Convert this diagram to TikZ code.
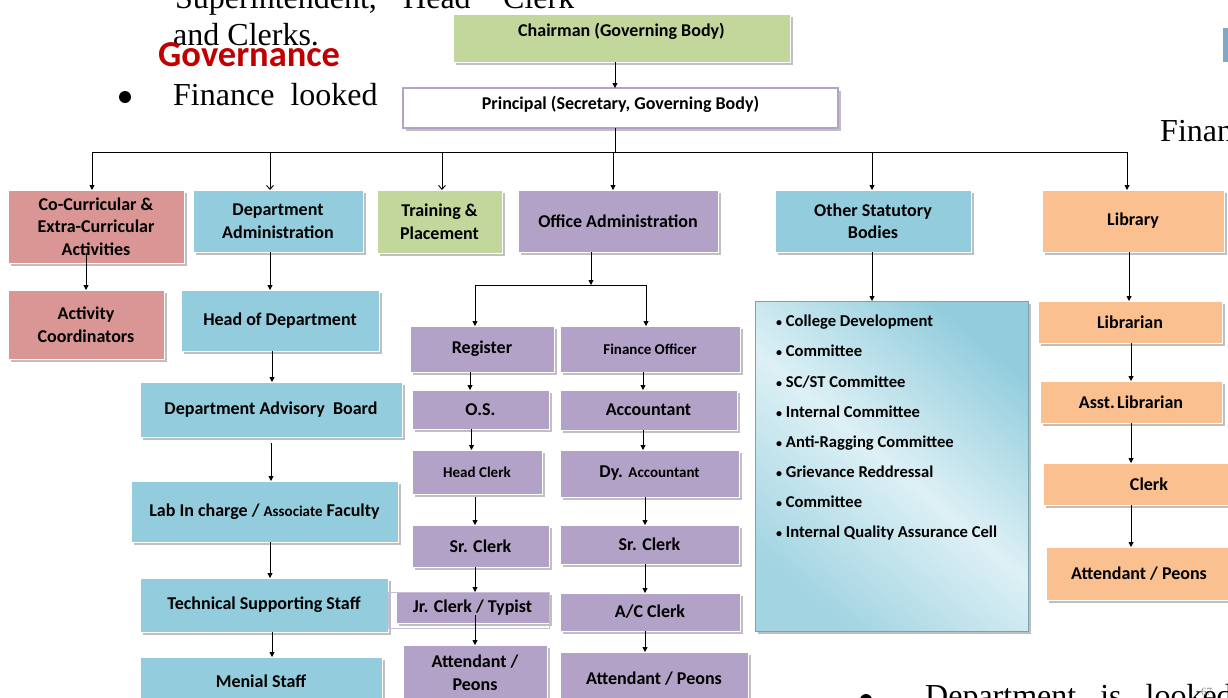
\documentclass[tikz,border=0pt]{standalone}
\usepackage{fontspec}
\setmainfont{Carlito}
\newfontfamily\seriffont{Liberation Serif}
\usetikzlibrary{arrows.meta,shadows}
\definecolor{cgreen}{HTML}{C3D69B}
\definecolor{cpink}{HTML}{D99694}
\definecolor{cblue}{HTML}{93CDDD}
\definecolor{cpurple}{HTML}{B3A2C7}
\definecolor{corange}{HTML}{FAC090}
\definecolor{cred}{HTML}{C00000}
\definecolor{clight}{HTML}{DDF0F5}
\definecolor{cmark}{HTML}{7FA7C9}
\newcommand{\sbul}{{\fontsize{12}{12}\selectfont\textbullet}\ }
\tikzset{
  box/.style={draw=white, line width=0.6pt, inner sep=0pt, outer sep=0pt, align=center,
    font=\bfseries\fontsize{18}{22.5}\selectfont,
    drop shadow={shadow xshift=2.5pt, shadow yshift=-2.5pt, fill=black!50, opacity=0.5}},
  arr/.style={line width=0.9pt, -{Triangle[length=5pt,width=5pt]}},
  oarr/.style={line width=0.9pt, -{Straight Barb[length=4pt,width=7pt]}},
  ln/.style={line width=0.9pt},
  bg/.style={font=\seriffont\fontsize{32}{37}\selectfont, inner sep=0pt, anchor=base west},
  small/.style={font=\bfseries\fontsize{15}{20}\selectfont}
}
\begin{document}
\begin{tikzpicture}[x=1pt,y=-1pt]
\useasboundingbox (0,0) rectangle (1228,697);
\clip (0,0) rectangle (1228,697);
% ---------- background page text ----------
\node[bg] (t1) at (175,8) {Superintendent,};
\node[bg] (t2) at (403,8) {Head};
\node[bg] (t3) at (503,8) {Clerk};
\node[bg] (t4) at (173,45) {and Clerks.};
\node[anchor=base west, inner sep=0pt, text=cred, font=\bfseries\fontsize{36.5}{40}\selectfont] (gov) at (158,66) {Governance};
\fill (125,97) circle (6);
\node[bg] (t5) at (173,105) {Finance\ \ looked};
\node[bg] (t6) at (1160,141) {Finan};
\fill (866,700) circle (6);
\node[bg] (t7) at (925,706) {Department\ \ \ is\ \ \ looked};
\node[anchor=base west, inner sep=0pt, text=gray, font=\seriffont\fontsize{11}{11}\selectfont] (pg) at (1201,695) {67};
\fill[cmark] (1223,28) rectangle (1228,62);
% ---------- top ----------
\node[box, fill=cgreen, minimum width=337, minimum height=48, text depth=17pt] (chair) at (621.5,38) {Chairman (Governing Body)};
\node[box, fill=white, draw=cpurple, line width=1.8pt, minimum width=435, minimum height=40, text depth=10pt] (prin) at (620.5,108) {Principal (Secretary, Governing Body)};
% ---------- level 1 ----------
\node[box, fill=cpink, minimum width=176, minimum height=73] (cc) at (96,226.5) {Co-Curricular \&\\Extra-Curricular\\Activities};
\node[box, fill=cblue, minimum width=170, minimum height=62] (dept) at (278,221) {Department\\Administration};
\node[box, fill=cgreen, minimum width=125, minimum height=63] (train) at (439.5,221.5) {Training \&\\Placement};
\node[box, fill=cpurple, minimum width=200, minimum height=62] (office) at (618,221) {Office Administration};
\node[box, fill=cblue, minimum width=196, minimum height=62] (stat) at (873,221) {Other Statutory\\Bodies};
\node[box, fill=corange, minimum width=182, minimum height=62] (lib) at (1133,221) {Library};
% ---------- co-curricular ----------
\node[box, fill=cpink, minimum width=156, minimum height=69] (act) at (86,324.5) {Activity\\Coordinators};
% ---------- department column ----------
\node[box, fill=cblue, minimum width=198, minimum height=61] (hod) at (280,320.5) {Head of Department};
\node[box, fill=cblue, minimum width=262, minimum height=55] (dab) at (271,409.5) {Department Advisory\ \ Board};
\node[box, fill=cblue, minimum width=267, minimum height=61] (lab) at (264.5,511.5) {Lab In charge / {\fontsize{15}{20}\selectfont Associate} Faculty};
\node[box, fill=cblue, minimum width=248, minimum height=54] (tss) at (264,605) {Technical Supporting Staff};
\node[box, fill=cblue, minimum width=242, minimum height=48] (men) at (261,681) {Menial Staff};
% ---------- office columns ----------
\node[box, fill=cpurple, minimum width=144, minimum height=46] (reg) at (482,349) {Register};
\node[box, fill=cpurple, minimum width=180, minimum height=46, small] (fin) at (650,349) {Finance Officer};
\node[box, fill=cpurple, minimum width=137, minimum height=39] (os) at (480.5,409.5) {O.S.};
\node[box, fill=cpurple, minimum width=177, minimum height=40] (acc) at (648.5,410) {Accountant};
\node[box, fill=cpurple, minimum width=130, minimum height=44, small] (hc) at (477,472) {Head Clerk};
\node[box, fill=cpurple, minimum width=179, minimum height=47] (dy) at (649.5,473.5) {Dy. {\fontsize{15}{20}\selectfont Accountant}};
\node[box, fill=cpurple, minimum width=137, minimum height=42] (srl) at (480.5,546) {Sr. Clerk};
\node[box, fill=cpurple, minimum width=179, minimum height=39] (srr) at (649.5,544.5) {Sr. Clerk};
\node[box, fill=cpurple, minimum width=153, minimum height=31] (jr) at (472.5,607.5) {Jr. Clerk / Typist};
\draw[cpurple!70, line width=1pt] ([xshift=-8pt]jr.north west) rectangle ([yshift=-5pt]jr.south east);
\node[box, fill=cpurple, minimum width=180, minimum height=38] (acl) at (650,612) {A/C Clerk};
\node[box, fill=cpurple, minimum width=144, minimum height=55] (attl) at (475,672.5) {Attendant /\\Peons};
\node[box, fill=cpurple, minimum width=188, minimum height=53] (attr) at (654,678.5) {Attendant / Peons};
% ---------- statutory ----------
\node[box, draw=cblue!80!black, line width=0.8pt, minimum width=273, minimum height=330,
  top color=cblue, bottom color=cblue!85, middle color=clight, shading angle=-40] (slist) at (891.5,466) {};
\node[anchor=north west, align=left, inner sep=0pt, font=\bfseries\fontsize{16.6}{30.1}\selectfont] (sitems) at (776,315)
 {\sbul College Development\\
  \sbul Committee\\
  \sbul SC/ST Committee\\
  \sbul Internal Committee\\
  \sbul Anti-Ragging Committee\\
  \sbul Grievance Reddressal\\
  \sbul Committee\\
  \sbul Internal Quality Assurance Cell};
% ---------- library ----------
\node[box, fill=corange, minimum width=184, minimum height=42] (libr) at (1130,322) {Librarian};
\node[box, fill=corange, minimum width=182, minimum height=42] (asst) at (1131,402) {Asst.\hspace{0.12em}Librarian};
\node[box, fill=corange, minimum width=212, minimum height=42] (clk) at (1149,484) {Clerk};
\node[box, fill=corange, minimum width=186, minimum height=53] (attb) at (1139,573.5) {Attendant / Peons};
% ---------- connectors ----------
\coordinate (busL) at (92,152);
\coordinate (busR) at (1127,152);
\coordinate (sp) at (591,285);
\draw[arr] ([xshift=-6.5pt]chair.south) -- ([xshift=-6.5pt]chair.south |- prin.north);
\draw[ln] ([xshift=-5.5pt]prin.south) -- ([xshift=-5.5pt]prin.south |- busL);
\draw[ln] (busL) -- (busR);
\draw[arr] (busL) -- (busL |- cc.north);
\draw[oarr] ([xshift=-8pt]dept.north |- busL) -- ([xshift=-8pt]dept.north);
\draw[oarr] ([xshift=2.5pt]train.north |- busL) -- ([xshift=2.5pt]train.north);
\draw[arr] ([xshift=-5pt]office.north |- busL) -- ([xshift=-5pt]office.north);
\draw[arr] ([xshift=-1pt]stat.north |- busL) -- ([xshift=-1pt]stat.north);
\draw[arr] (busR) -- (busR |- lib.north);
% co-curricular
\draw[arr] ([xshift=-10pt,yshift=10pt]cc.south) -- ([xshift=-10pt]cc.south |- act.north);
% department
\draw[arr] ([xshift=-8pt]dept.south) -- ([xshift=-8pt]dept.south |- hod.north);
\draw[arr] ([xshift=-8pt]hod.south) -- ([xshift=-8pt]hod.south |- dab.north);
\draw[arr] ([xshift=0pt,yshift=-6pt]dab.south) -- (dab.south |- lab.north);
\draw[arr] ([xshift=5.5pt]lab.south) -- ([xshift=5.5pt]lab.south |- tss.north);
\draw[arr] ([xshift=8pt]tss.south) -- ([xshift=8pt]tss.south |- men.north);
% office
\draw[arr] ([xshift=-27pt]office.south) -- ([xshift=-27pt]office.south |- sp);
\draw[ln] ([xshift=-7pt]reg.north |- sp) -- ([xshift=-4pt]fin.north |- sp);
\draw[arr] ([xshift=-7pt]reg.north |- sp) -- ([xshift=-7pt]reg.north);
\draw[arr] ([xshift=-4pt]fin.north |- sp) -- ([xshift=-4pt]fin.north);
\draw[arr] ([xshift=-12pt]reg.south) -- ([xshift=-12pt]reg.south |- os.north);
\draw[arr] ([xshift=-9pt]os.south) -- ([xshift=-9pt]os.south |- hc.north);
\draw[arr] ([xshift=-2pt,yshift=-3pt]hc.south) -- ([xshift=-2pt]hc.south |- srl.north);
\draw[arr] ([xshift=-5.5pt]srl.south) -- ([xshift=-5.5pt]srl.south |- jr.north);
\draw[arr] ([xshift=2.5pt,yshift=8pt]jr.south) -- ([xshift=2.5pt]jr.south |- attl.north);
\draw[arr] ([xshift=-7pt]fin.south) -- ([xshift=-7pt]fin.south |- acc.north);
\draw[arr] ([xshift=-5.5pt]acc.south) -- ([xshift=-5.5pt]acc.south |- dy.north);
\draw[arr] ([xshift=-4.5pt]dy.south) -- ([xshift=-4.5pt]dy.south |- srr.north);
\draw[arr] ([xshift=-4.5pt]srr.south) -- ([xshift=-4.5pt]srr.south |- acl.north);
\draw[arr] ([xshift=-5pt]acl.south) -- ([xshift=-5pt]acl.south |- attr.north);
% statutory
\draw[arr] ([xshift=-1pt]stat.south) -- ([xshift=-1pt]stat.south |- slist.north);
% library
\draw[arr] ([xshift=-4pt]lib.south) -- ([xshift=-4pt]lib.south |- libr.north);
\draw[arr] ([xshift=1pt]libr.south) -- ([xshift=1pt]libr.south |- asst.north);
\draw[arr] (asst.south) -- (asst.south |- clk.north);
\draw[arr] ([xshift=-18pt]clk.south) -- ([xshift=-18pt]clk.south |- attb.north);
\end{tikzpicture}
\end{document}
